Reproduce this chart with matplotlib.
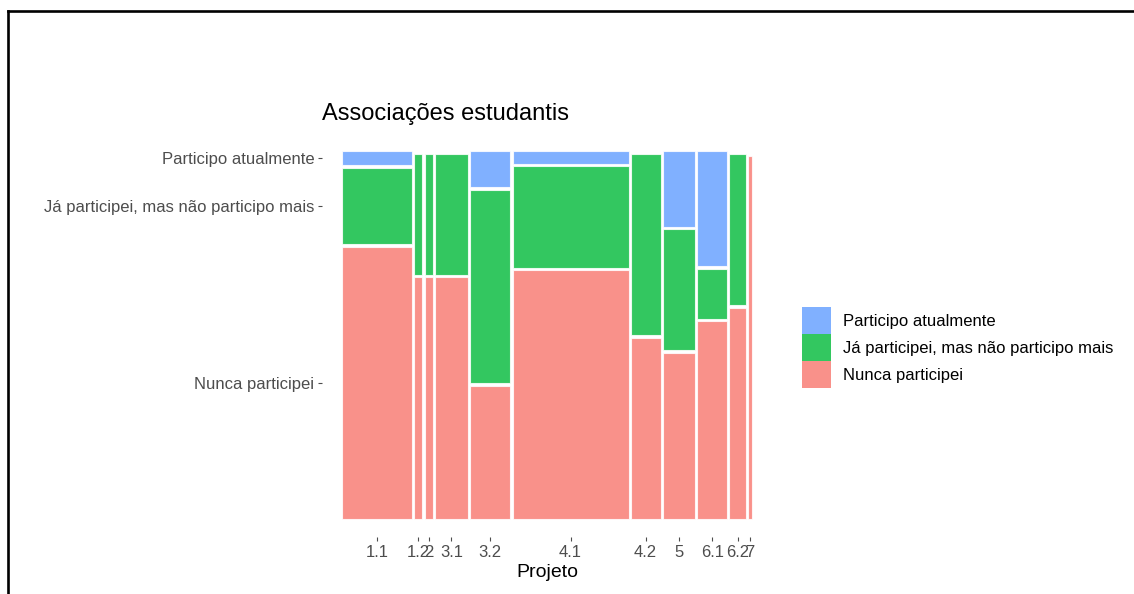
import matplotlib
matplotlib.use('Agg')
import matplotlib.pyplot as plt
from matplotlib.patches import Patch
from matplotlib.lines import Line2D
import numpy as np

plt.rcParams['font.family'] = ['Liberation Sans', 'DejaVu Sans']

projetos = ['1.1', '1.2', '2', '3.1', '3.2', '4.1', '4.2', '5', '6.1', '6.2', '7']
respostas = ['Nunca participei', 'Já participei, mas não participo mais', 'Participo atualmente']
nunca = [39, 4, 4, 16, 11, 59, 11, 11, 12, 7, 3]
ja_participei = [11, 2, 2, 8, 16, 24, 11, 8, 3, 5, 0]
atualmente = [2, 0, 0, 0, 3, 3, 0, 5, 7, 0, 0]
cores = ['#F8766D', '#00BA38', '#619CFF']

counts = np.array([nunca, ja_participei, atualmente], dtype=float)
totais = counts.sum(axis=0)
fracs = counts / totais

# spacing between tiles (ggmosaic-like offsets)
xgap = 0.006 * totais.sum()
ygap = 0.0075

lefts = np.concatenate([[0], np.cumsum(totais[:-1] + xgap)])
centers = lefts + totais / 2
xmax = lefts[-1] + totais[-1]
ymax = 1 + 2 * ygap

W, H = 1134, 594
fig = plt.figure(figsize=(W / 100, H / 100), dpi=100)
ax = fig.add_axes([321.5 / W, 1 - 537.4 / H, 451 / W, 404.8 / H])

bottoms = np.zeros(len(projetos))
for i in range(3):
    ax.bar(lefts, fracs[i], width=totais, bottom=bottoms, align='edge',
           color=cores[i], alpha=0.8, edgecolor='white', linewidth=0.8)
    bottoms = bottoms + fracs[i] + ygap

# y ticks sit at the middle of the first column's tiles
f0 = fracs[:, 0]
ystart = np.concatenate([[0], np.cumsum(f0 + ygap)[:-1]])
ax.set_yticks(ystart + f0 / 2, respostas)
ax.set_xticks(centers, projetos)

ax.set_xlim(-0.05 * xmax, 1.05 * xmax)
ax.set_ylim(-0.05 * ymax, 1.05 * ymax)
for s in ax.spines.values():
    s.set_visible(False)
ax.tick_params(length=2.75, width=0.8, color='#4D4D4D', labelcolor='#4D4D4D',
               labelsize=12, pad=2.5)
ax.set_xlabel('Projeto', fontsize=14, labelpad=3)

fig.text(321.5 / W, 1 - 114 / H, 'Associações estudantis', fontsize=17, va='center')

handles = [Patch(facecolor=cores[i], alpha=0.8, edgecolor='none') for i in [2, 1, 0]]
fig.legend(handles, [respostas[i] for i in [2, 1, 0]], loc='upper left',
           bbox_to_anchor=(802 / W, 1 - 307 / H), frameon=False, fontsize=12,
           handlelength=1.74, handleheight=2.12, labelspacing=0, handletextpad=0.72,
           borderpad=0, borderaxespad=0)

# black frame of the screenshot (top and left)
fig.add_artist(Line2D([8 / W, 1], [1 - 11 / H] * 2, color='black', lw=1.9))
fig.add_artist(Line2D([8 / W] * 2, [0, 1 - 11 / H], color='black', lw=1.9))

fig.savefig('out.png', dpi=100)
